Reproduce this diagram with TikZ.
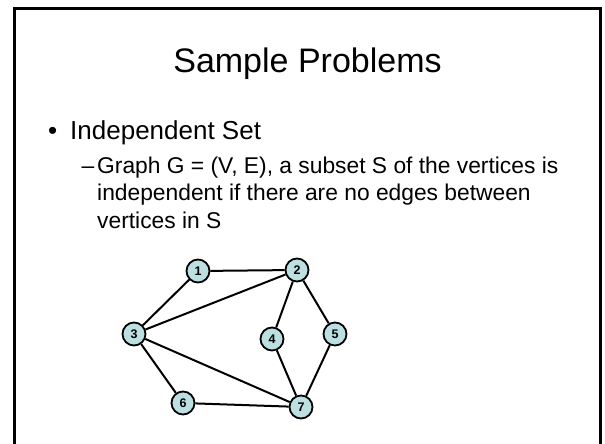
\documentclass[tikz,border=0pt]{standalone}
\usepackage{fontspec}
\setmainfont{Liberation Sans}
\definecolor{nodefill}{RGB}{188,224,226}
\begin{document}
\begin{tikzpicture}[x=1pt,y=-1pt,
  vtx/.style={circle,draw=black,line width=1.8pt,fill=nodefill,minimum size=23pt,inner sep=0pt,font=\fontsize{12.5}{12.5}\selectfont\bfseries},
  edge/.style={line width=2pt},
  txt/.style={anchor=base west,inner sep=0pt}]
\useasboundingbox (0,0) rectangle (605,444);
\clip (0,0) rectangle (605,444);
\draw[line width=3pt] (14.5,8.5) rectangle (600.5,470);
\node[anchor=base,inner sep=0pt,font=\fontsize{34}{40}\selectfont] (title) at (307.5,73) {Sample Problems};
\node[txt,font=\fontsize{26}{31}\selectfont] (bul) at (48,139) {•};
\node[txt,font=\fontsize{26}{31}\selectfont] (l1) at (70,139) {Independent Set};
\node[txt,font=\fontsize{22.8}{27}\selectfont] (dash) at (81.5,173) {–};
\node[txt,font=\fontsize{22.8}{27}\selectfont] (s1) at (97,173) {Graph G = (V, E), a subset S of the vertices is};
\node[txt,font=\fontsize{22.8}{27}\selectfont] (s2) at (97,200.5) {independent if there are no edges between};
\node[txt,font=\fontsize{22.8}{27}\selectfont] (s3) at (97,228) {vertices in S};
\node[vtx] (n1) at (198,271) {1};
\node[vtx] (n2) at (297,270) {2};
\node[vtx] (n3) at (134,334) {3};
\node[vtx] (n4) at (272,339) {4};
\node[vtx] (n5) at (335,334) {5};
\node[vtx] (n6) at (183,403) {6};
\node[vtx] (n7) at (301,407) {7};
\draw[edge] (n1) -- (n2);
\draw[edge] (n1) -- (n3);
\draw[edge] (n2) -- (n3);
\draw[edge] (n2) -- (n4);
\draw[edge] (n2) -- (n5);
\draw[edge] (n3) -- (n6);
\draw[edge] (n3) -- (n7);
\draw[edge] (n4) -- (n7);
\draw[edge] (n5) -- (n7);
\draw[edge] (n6) -- (n7);
\end{tikzpicture}
\end{document}
